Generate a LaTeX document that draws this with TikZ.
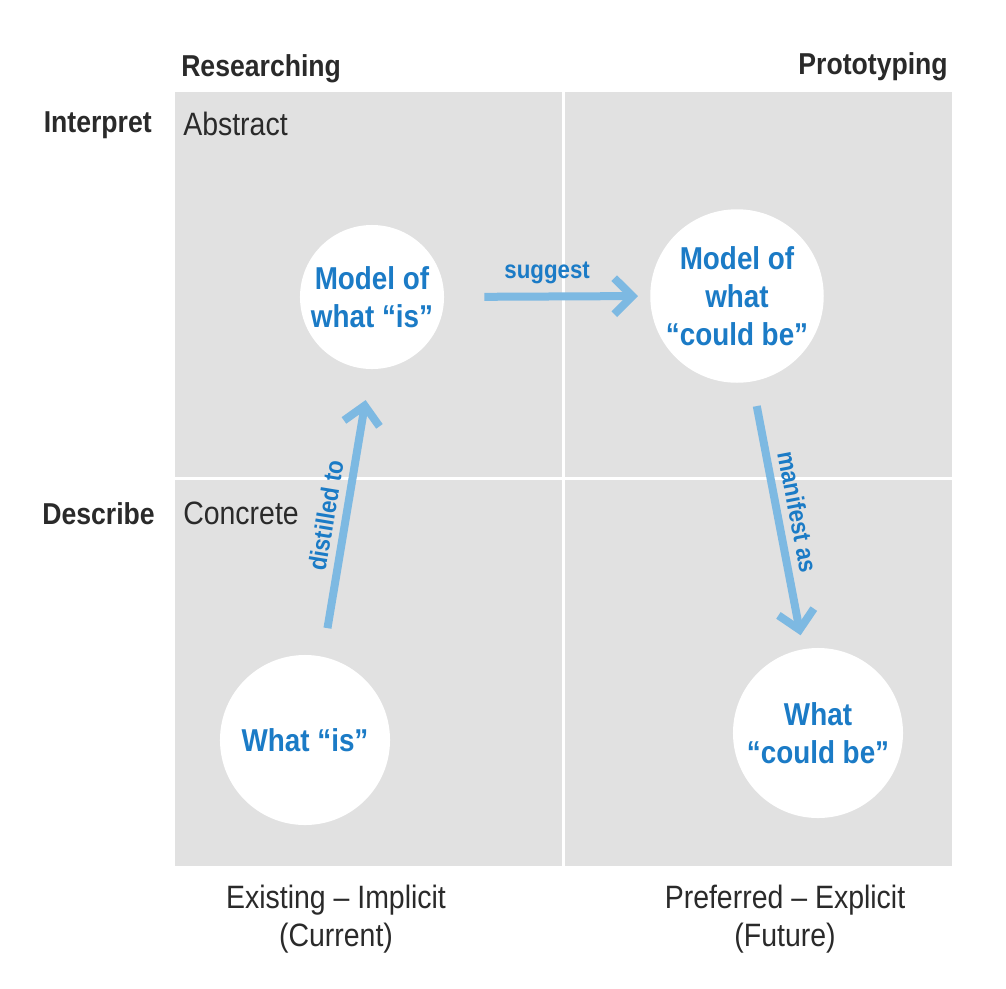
\documentclass[tikz,border=0pt]{standalone}
\usepackage{fontspec}
\setmainfont[FakeStretch=0.88]{Liberation Sans}
\usetikzlibrary{arrows.meta, positioning}
\definecolor{panel}{HTML}{E1E1E1}
\definecolor{flowblue}{HTML}{7DB9E2}
\definecolor{inkblue}{HTML}{1B7BC6}
\definecolor{inkgray}{HTML}{2A2A2A}
\tikzset{
    blob/.style={circle, fill=white, minimum size=4.25cm, inner sep=0pt, align=center,
                 text=inkblue, font=\fontsize{22.5}{27}\selectfont\bfseries},
    head/.style={inner sep=0pt, text=inkgray, font=\fontsize{21.5}{26}\selectfont\bfseries},
    tag/.style={inner sep=0pt, text=inkgray, font=\fontsize{23}{27}\selectfont},
    flow/.style={-{Straight Barb[length=0.45cm, width=0.9cm]}, line width=0.2cm, flowblue},
    verb/.style={text=inkblue, font=\fontsize{18}{21}\selectfont\bfseries, inner sep=2pt}
}
\begin{document}
\begin{tikzpicture}[x=0.025cm, y=-0.025cm]
    \useasboundingbox (0,0) rectangle (1006,988);
    % Raster
    \fill[panel] (175,92) rectangle (952,866);
    \draw[white, line width=0.075cm] (563,92) -- (563,866);
    \draw[white, line width=0.075cm] (175,478) -- (952,478);

    % Kopfzeilen
    \node[head, anchor=west] (res) at (181,69) {Researching};
    \node[head, anchor=east] (pro) at (948,67) {Prototyping};
    \node[head, anchor=east] (int) at (152,125) {Interpret};
    \node[tag, anchor=west] (abs) at (183,124) {Abstract};
    \node[head, anchor=east] (des) at (155,514) {Describe};
    \node[tag, anchor=west] (con) at (183,513) {Concrete};
    \node[tag, align=center] (cur) at (336,919) {Existing -- Implicit\\(Current)};
    \node[tag, align=center] (fut) at (785,919) {Preferred -- Explicit\\(Future)};

    % Kreise
    \node[blob, minimum size=3.6cm] (modelis) at (372,297) {Model of\\what “is”};
    \node[blob] (modelcould) at (737,296) {Model of\\what\\“could be”};
    \node[blob] (is) at (305,740) {What “is”};
    \node[blob] (could) at (818,733) {What\\“could be”};

    % Pfeile
    \draw[flow, shorten <=1cm, shorten >=0.3cm] (modelis.east) -- node[verb, above=4pt] {suggest} (modelcould.west);
    \draw[flow, shorten <=0.72cm, shorten >=0.78cm] (is.78) -- node[verb, sloped, above=3pt, pos=0.48] {distilled to} (modelis.-91);
    \draw[flow, shorten <=0.62cm, shorten >=0.35cm] (modelcould.-80) -- node[verb, sloped, above=3pt, pos=0.5] {manifest as} (could.100);
\end{tikzpicture}
\end{document}
